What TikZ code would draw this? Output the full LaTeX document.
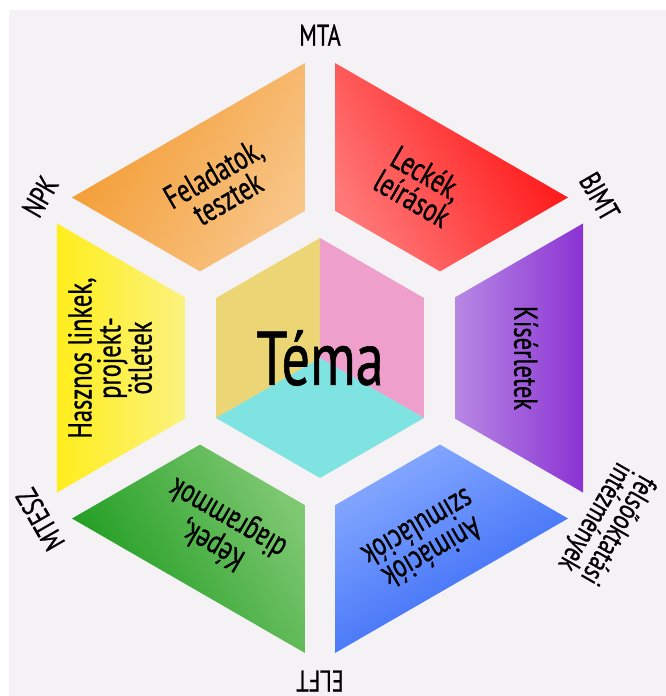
\documentclass[tikz,border=0pt]{standalone}
\usepackage{fontspec}
\setmainfont[FakeStretch=0.74, FakeBold=0.8]{PT Sans}

\definecolor{bgcol}{HTML}{F5F2F6}
\definecolor{oraA}{HTML}{F39A2E}
\definecolor{oraB}{HTML}{F8C588}
\definecolor{redA}{HTML}{FF7878}
\definecolor{redB}{HTML}{FF0D0D}
\definecolor{purA}{HTML}{B788E4}
\definecolor{purB}{HTML}{8B33D3}
\definecolor{bluA}{HTML}{86A9FF}
\definecolor{bluB}{HTML}{2D62F5}
\definecolor{greA}{HTML}{17991A}
\definecolor{greB}{HTML}{7FC872}
\definecolor{yelA}{HTML}{FFEE1C}
\definecolor{yelB}{HTML}{FBF27E}
\definecolor{coreyel}{HTML}{EBD574}
\definecolor{corepink}{HTML}{EE9FCB}
\definecolor{corecyan}{HTML}{7EE3E1}

\begin{document}
\begin{tikzpicture}[
    x=1pt, y=1pt,
    every node/.style={inner sep=0pt},
    piecetext/.style={font=\fontsize{33}{29}\selectfont, align=center},
    tag/.style={font=\fontsize{30}{26}\selectfont, align=center}
]


\def\Ro{263}   % outer apothem of the ring
\def\Ri{135}   % inner apothem of the ring
\def\Rc{120}   % radius of the core hexagon
\def\gap{15}   % half width of the white gaps
\def\Rt{199}   % radius of the piece texts
\def\Rl{323}   % radius of the outer tags


\useasboundingbox (-320,-338) rectangle (346,358);
\fill[white] (-320,-338) rectangle (346,358);
\fill[bgcol] (-311,-338) rectangle (346,348);

\coordinate (O) at (0,0);

% corners of the ring pieces, in a frame turned to each edge
\foreach \ang/\p in {120/ora,60/red,0/pur,-60/blu,-120/gre,180/yel}{
  \begin{scope}[rotate=\ang]
    \coordinate (\p1) at ({\Ro},{(\Ro/2-\gap)/cos(30)});
    \coordinate (\p2) at ({\Ro},{-(\Ro/2-\gap)/cos(30)});
    \coordinate (\p3) at ({\Ri},{-(\Ri/2-\gap)/cos(30)});
    \coordinate (\p4) at ({\Ri},{(\Ri/2-\gap)/cos(30)});
  \end{scope}
}

\shade[left color=oraA, right color=oraB, shading angle=60]
  (ora1) -- (ora2) -- (ora3) -- (ora4) -- cycle;
\shade[left color=redA, right color=redB, shading angle=120]
  (red1) -- (red2) -- (red3) -- (red4) -- cycle;
\shade[left color=purA, right color=purB, shading angle=90]
  (pur1) -- (pur2) -- (pur3) -- (pur4) -- cycle;
\shade[left color=bluA, right color=bluB, shading angle=30]
  (blu1) -- (blu2) -- (blu3) -- (blu4) -- cycle;
\shade[left color=greA, right color=greB, shading angle=120]
  (gre1) -- (gre2) -- (gre3) -- (gre4) -- cycle;
\shade[left color=yelA, right color=yelB, shading angle=90]
  (yel1) -- (yel2) -- (yel3) -- (yel4) -- cycle;

% core
\fill[coreyel] (O) -- (90:\Rc) -- (150:\Rc) -- (210:\Rc) -- cycle;
\fill[corepink] (O) -- (90:\Rc) -- (30:\Rc) -- (-30:\Rc) -- cycle;
\fill[corecyan] (O) -- (210:\Rc) -- (270:\Rc) -- (330:\Rc) -- cycle;

\node[font=\fontsize{76}{76}\selectfont] (tema) at (O) {Téma};

\node[piecetext, rotate=30] (feladat) at (120:\Rt) {Feladatok,\\tesztek};
\node[piecetext, rotate=-30] (lecke) at (60:\Rt) {Leckék,\\leírások};
\node[piecetext, rotate=-90] (kiserlet) at (0:206) {Kísérletek};
\node[piecetext, rotate=-150] (animacio) at (-60:211) {Animációk\\szimulációk};
\node[piecetext, rotate=150] (kepek) at (-120:\Rt) {Képek,\\diagrammok};
\node[piecetext, rotate=90] (linkek) at (180:210) {Hasznos linkek,\\projekt-\\ötletek};

\node[tag] (mta) at (90:\Rl) {MTA};
\node[tag, rotate=-60] (bjmt) at (30:\Rl) {BJMT};
\node[tag, rotate=-120] (felso) at (-30:330) {felsőoktatási\\intézmények};
\node[tag, rotate=180] (elft) at (-90:\Rl) {ELFT};
\node[tag, rotate=120] (mtesz) at (-150:\Rl) {MTESZ};
\node[tag, rotate=60] (npk) at (150:\Rl) {NPK};
\end{tikzpicture}
\end{document}
